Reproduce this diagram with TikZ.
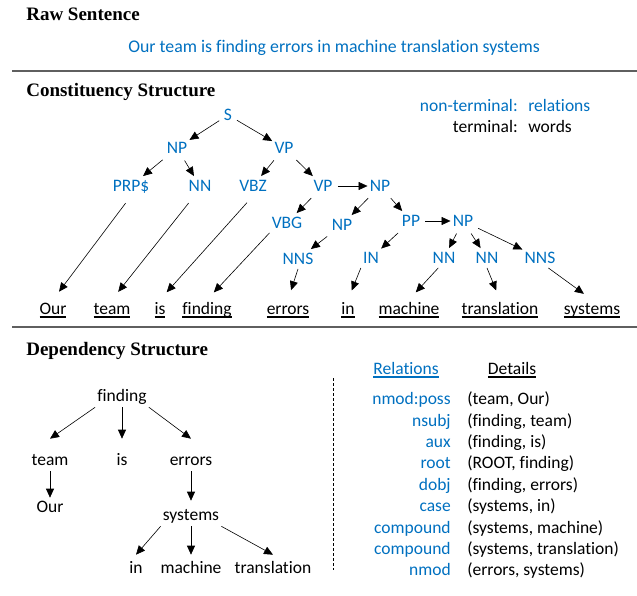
\documentclass[tikz,border=0pt]{standalone}
\usepackage{fontspec}
\setmainfont{Carlito}[Ligatures=CommonOff]
\newfontfamily\headfont{Liberation Serif}
\usepackage{tikz}
\usetikzlibrary{positioning}
\usetikzlibrary{arrows.meta}
\definecolor{relblue}{RGB}{0,112,192}
\definecolor{rulegray}{RGB}{95,95,95}
\newsavebox{\ulbox}
\newcommand{\ulw}[1]{\sbox{\ulbox}{#1}\rlap{\rule[-3.6pt]{\wd\ulbox}{1.3pt}}\usebox{\ulbox}}
\tikzset{
nt/.style={
  text=relblue,
  font=\fontsize{17.5}{20}\selectfont,
  text height=11.3pt,
  text depth=0pt,
  inner xsep=2pt,
  inner ysep=4pt
  },
wd/.style={
  font=\fontsize{17.5}{20}\selectfont,
  text height=12pt,
  text depth=4pt,
  inner sep=2pt
  },
hd/.style={
  font=\headfont\bfseries\fontsize{19}{22}\selectfont,
  anchor=base west,
  inner sep=0pt
  },
lng/.style={shorten >=10pt},
sep/.style={draw=rulegray,line width=1.6pt}
}

\begin{document}
\begin{tikzpicture}[x=1pt,y=-1pt,>={Triangle[length=9pt,width=8pt]},semithick,on grid]
\useasboundingbox (0,0) rectangle (637,596);
% raw sentence
\node[hd] (rawt) at (26,21) {Raw Sentence};
\node[wd,text=relblue,anchor=base west,font=\fontsize{17.8}{20}\selectfont] (sent) at (126,53) {Our team is finding errors in machine translation systems};
\draw[sep] (12,71) -- (637,71);
% constituency structure
\node[hd] (const) at (26,97) {Constituency Structure};
\node[wd,text=relblue,anchor=base east] (ntlab) at (520,112) {non-terminal:};
\node[wd,text=relblue,anchor=base west] (ntval) at (526,112) {relations};
\node[wd,anchor=base east] (tlab) at (520,133) {terminal:};
\node[wd,anchor=base west] (tval) at (526,133) {words};
\node[nt] (S) at (228,115) {S};
\node[nt] (np1) [below left=33pt and 51pt of S] {NP};
\node[nt] (vp1) [below right=33pt and 56pt of S] {VP};
\node[nt] (prp) [below left=38pt and 46pt of np1] {PRP\$};
\node[nt] (nn1) [below right=38pt and 23pt of np1] {NN};
\node[nt] (vbz) [below left=38pt and 31pt of vp1] {VBZ};
\node[nt] (vp2) [below right=38pt and 39pt of vp1] {VP};
\node[nt] (np2) [right=57pt of vp2] {NP};
\node[nt] (vbg) [below left=37pt and 36pt of vp2] {VBG};
\node[nt] (np3) [below left=39pt and 38pt of np2] {NP};
\node[nt] (pp) [below right=35pt and 31pt of np2] {PP};
\node[nt] (np4) [right=52pt of pp] {NP};
\node[nt] (nns1) [below left=34pt and 44pt of np3] {NNS};
\node[nt] (in1) [below left=37pt and 40pt of pp] {IN};
\node[nt] (nn2) [below left=37pt and 19pt of np4] {NN};
\node[nt] (nn3) [below right=37pt and 24pt of np4] {NN};
\node[nt] (nns2) [below right=37pt and 77pt of np4] {NNS};
\node[wd,anchor=base] (wour) at (53,314) {\ulw{Our}};
\node[wd,anchor=base] (wteam) at (112,314) {\ulw{team}};
\node[wd,anchor=base] (wis) at (160,314) {\ulw{is}};
\node[wd,anchor=base] (wfind) at (207,314) {\ulw{finding}};
\node[wd,anchor=base] (werr) at (288,314) {\ulw{errors}};
\node[wd,anchor=base] (win) at (348,314) {\ulw{in}};
\node[wd,anchor=base] (wmach) at (409,314) {\ulw{machine}};
\node[wd,anchor=base] (wtrans) at (500,314) {\ulw{translation}};
\node[wd,anchor=base] (wsys) at (592,314) {\ulw{systems}};
\path[->,shorten <=3pt]
(S) edge [] (np1)
(S) edge [] (vp1)
(np1) edge [] (prp)
(np1) edge [] (nn1)
(vp1) edge [] (vbz)
(vp1) edge [] (vp2)
(vp2) edge [] (np2)
(vp2) edge [] (vbg)
(np2) edge [] (np3)
(np2) edge [] (pp)
(pp) edge [] (np4)
(np3) edge [] (nns1)
(pp) edge [] (in1)
(np4) edge [] (nn2)
(np4) edge [] (nn3)
(np4) edge [] (nns2)
;
\path[->]
(prp.south) edge [lng,shorten <=9pt] (wour.north)
(nn1.240) edge [lng,shorten <=9pt] (wteam.north)
(vbz.south) edge [lng,shorten <=9pt] (wis.north)
(vbg.south west) edge [lng] (wfind.north)
(nns1.south) edge [lng] (werr.north)
(in1.south west) edge [lng] (win.north)
(nn2.240) edge [lng] (wmach.north)
(nn3.south) edge [lng] (wtrans.north)
(nns2.310) edge [lng] (wsys.north)
;
\draw[sep] (12,327) -- (637,327);
% dependency structure
\node[hd] (dep) at (26,355) {Dependency Structure};
\node[wd] (finding) at (122,397) {finding};
\node[wd] (team) [below left=64pt and 72pt of finding] {team};
\node[wd] (is) [below=64pt of finding] {is};
\node[wd] (errors) [below right=64pt and 69pt of finding] {errors};
\node[wd] (our) [below=47pt of team] {Our};
\node[wd] (systems) [below=55pt of errors] {systems};
\node[wd] (in) [below left=53pt and 55pt of systems] {in};
\node[wd] (machine) [below=53pt of systems] {machine};
\node[wd] (translation) [below right=53pt and 82pt of systems] {translation};
\path[->]
(finding.south west) edge [] ([yshift=12pt]team.north)
(finding.south) edge [] ([yshift=12pt]is.north)
(finding.south east) edge [] ([yshift=12pt]errors.north)
(team) edge [] (our)
(errors) edge [] ([yshift=5pt]systems.north)
(systems.south west) edge [] ([yshift=4pt]in.north)
(systems.south) edge [] ([yshift=4pt]machine.north)
(systems.south east) edge [] ([yshift=4pt]translation.north)
;
\draw[dashed,dash pattern=on 3pt off 2pt] (333,378) -- (333,570);
\node[wd,text=relblue,anchor=base] (relhead) at (406,374) {\ulw{Relations}};
\node[wd,anchor=base] (dethead) at (512,374) {\ulw{Details}};
\foreach \rname/\rdet/\ry [count=\i] in {nmod:poss/{(team, Our)}/400, nsubj/{(finding, team)}/422, aux/{(finding, is)}/443, root/{(ROOT, finding)}/464, dobj/{(finding, errors)}/486, case/{(systems, in)}/507, compound/{(systems, machine)}/529, compound/{(systems, translation)}/550, nmod/{(errors, systems)}/571}
{
\node[wd,text=relblue,anchor=east] (rel\i) at (453,\ry) {\rname};
\node[wd,anchor=west] (det\i) at (465,\ry) {\rdet};
}
\end{tikzpicture}
\end{document}
